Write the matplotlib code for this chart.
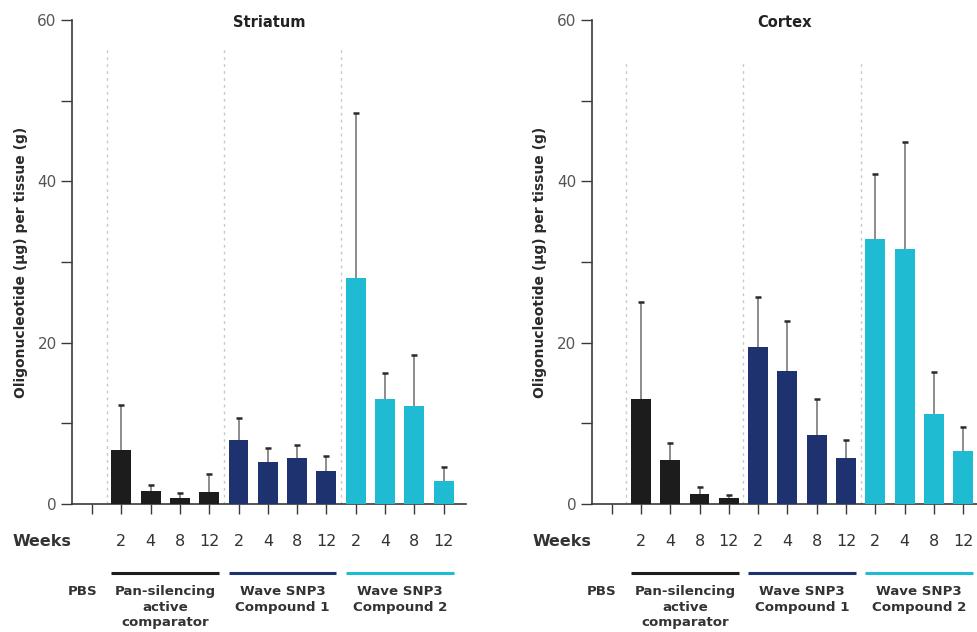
import matplotlib
matplotlib.use('Agg')
import matplotlib.pyplot as plt
import numpy as np

# group/time layout shared by both tissues
weeks = ['2', '4', '8', '12']
groups = ['Pan-silencing\nactive\ncomparator', 'Wave SNP3\nCompound 1', 'Wave SNP3\nCompound 2']
group_colors = ['#1c1c1c', '#1e3270', '#1fbbd3']

# mean and upper error (mean + SD) per group, weeks 2/4/8/12
striatum_mean = [[6.7, 1.6, 0.7, 1.45],
                 [7.9, 5.2, 5.7, 4.1],
                 [28.0, 13.0, 12.1, 2.9]]
striatum_top = [[12.3, 2.3, 1.4, 3.7],
                [10.7, 7.0, 7.3, 6.0],
                [48.5, 16.2, 18.5, 4.6]]

cortex_mean = [[13.0, 5.5, 1.3, 0.7],
               [19.5, 16.5, 8.6, 5.7],
               [32.8, 31.6, 11.2, 6.6]]
cortex_top = [[25.0, 7.6, 2.1, 1.1],
              [25.7, 22.7, 13.0, 7.9],
              [40.9, 44.9, 16.4, 9.5]]

W, H = 977, 632
BAR_W = 0.68
SPINE = '#3a3a3a'
TXT = '#333333'


def draw_panel(ax, title, means, tops, xmax, dash_top):
    tr = ax.get_xaxis_transform()
    x = 1
    for g, (m, t, c) in enumerate(zip(means, tops, group_colors)):
        pos = np.arange(x, x + len(weeks))
        m = np.array(m)
        t = np.array(t)
        ax.bar(pos, m, width=BAR_W, color=c, zorder=3)
        # upper-only error whiskers with a small dark cap
        ax.vlines(pos, m, t, color='#6e6e6e', lw=1.1, zorder=2)
        ax.plot(pos, t, ls='none', marker='_', ms=5, mew=1.8,
                color='#2a2a2a', zorder=2)
        # group bracket and label under the week numbers
        ax.plot([pos[0] - BAR_W / 2, pos[-1] + BAR_W / 2], [-0.1426, -0.1426],
                transform=tr, color=c, lw=2.2, clip_on=False,
                solid_capstyle='butt')
        ax.text(pos.mean(), -0.168, groups[g], transform=tr, ha='center',
                va='top', fontsize=9.6, fontweight='bold', color=TXT,
                linespacing=1.25)
        for p, wk in zip(pos, weeks):
            ax.text(p, -0.0785, wk, transform=tr, ha='center', va='center',
                    fontsize=11.5, color=TXT)
        x += len(weeks)

    for xd in [0.5, 4.5, 8.5]:
        ax.plot([xd, xd], [0, dash_top], color='#c8c8c8', lw=1,
                ls=(0, (2, 3)), zorder=1)

    ax.text(-2.7, -0.0785, 'Weeks', transform=tr, ha='left', va='center',
            fontsize=11.5, fontweight='bold', color=TXT)
    ax.text(0.17, -0.168, 'PBS', transform=tr, ha='right', va='top',
            fontsize=9.6, fontweight='bold', color=TXT)

    ax.text(0.5, 0.995, title, transform=ax.transAxes, ha='center',
            va='center', fontsize=10.5, fontweight='bold', color='#222222')

    ax.set_xlim(-0.68, xmax)
    ax.set_ylim(0, 60)
    ax.set_xticks(np.arange(0, 13))
    ax.set_xticklabels([])
    ax.set_yticks([0, 20, 40, 60])
    ax.set_yticks([10, 30, 50], minor=True)
    ax.tick_params(axis='y', which='both', direction='out', length=8,
                   width=1, color=SPINE, labelsize=11, labelcolor='#555555',
                   pad=3)
    ax.tick_params(axis='x', direction='out', length=7, width=1,
                   color=SPINE)
    for s in ['top', 'right']:
        ax.spines[s].set_visible(False)
    for s in ['left', 'bottom']:
        ax.spines[s].set_color(SPINE)
        ax.spines[s].set_linewidth(1.2)
    ax.set_ylabel('Oligonucleotide (µg) per tissue (g)', fontsize=10,
                  fontweight='bold', color='#2a2a2a', labelpad=7)


fig = plt.figure(figsize=(W / 100, H / 100), dpi=100)
bottom = (H - 504) / H
height = 484 / H
ax1 = fig.add_axes([72 / W, bottom, 394 / W, height])
ax2 = fig.add_axes([591.7 / W, bottom, (W - 591.7) / W, height])

draw_panel(ax1, 'Striatum', striatum_mean, striatum_top, 12.76, 56.7)
draw_panel(ax2, 'Cortex', cortex_mean, cortex_top, 12.47, 55.0)

fig.savefig('out.png', dpi=100)
